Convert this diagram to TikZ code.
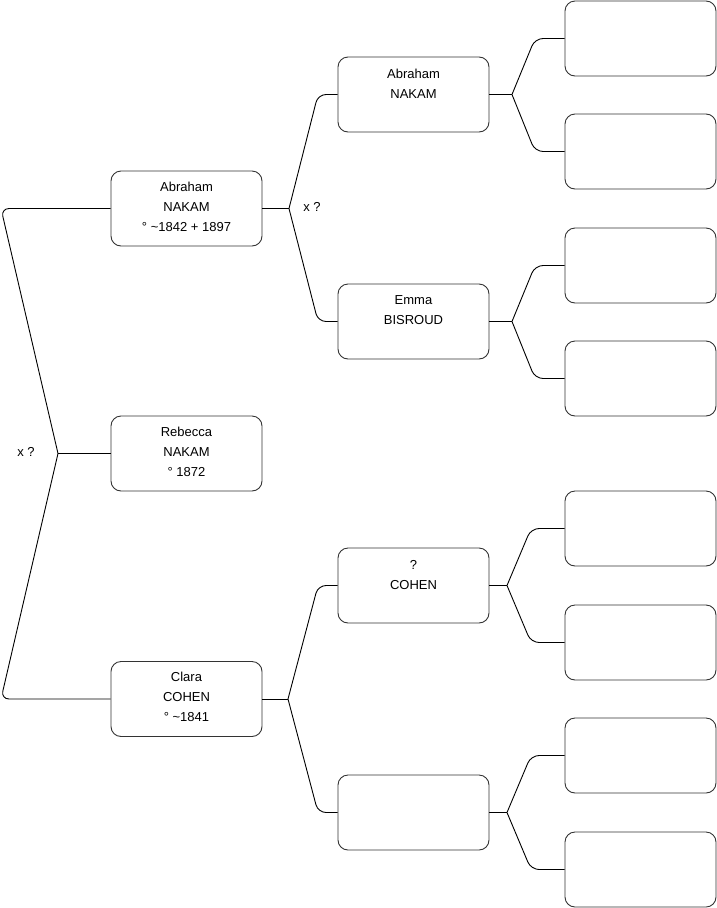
\documentclass[tikz,border=0pt]{standalone}
\usepackage{fontspec}
\setmainfont{Liberation Sans}
\newcommand{\lowpad}{\rule[-4pt]{0pt}{4pt}}
\newcommand{\emptyline}{\rule[-2pt]{0pt}{2pt}}
\begin{document}
\begin{tikzpicture}[x=1pt,y=-1pt,
  person/.style={draw=black!80, line width=0.9pt, rounded corners=10pt,
    minimum width=151pt, minimum height=75pt, inner sep=0pt,
    align=center, font=\fontsize{13}{20}\selectfont},
  link/.style={draw=black, line width=0.9pt, rounded corners=8pt},
  lbl/.style={font=\fontsize{13}{16}\selectfont, inner sep=0pt}]
\useasboundingbox (0,0) rectangle (716,908);
% generation 1
\node[person] (reb) at (186.5,453.5) {Rebecca\\NAKAM\\° 1872\lowpad};
% generation 2
\node[person] (abr) at (186.5,208.5) {Abraham\\NAKAM\\° \textasciitilde1842 + 1897\lowpad};
\node[person] (cla) at (186.5,699) {Clara\\COHEN\\° \textasciitilde1841\lowpad};
% generation 3
\node[person] (abr2) at (413.5,94.5) {Abraham\\NAKAM\\\emptyline};
\node[person] (emm) at (413.5,321.5) {Emma\\BISROUD\\\emptyline};
\node[person] (coh) at (413.5,585.5) {?\\COHEN\\\emptyline};
\node[person] (unk) at (413.5,812.5) {};
% generation 4
\foreach \n/\y in {a/38.5,b/151.5,c/265.5,d/378.5,e/528.5,f/642.5,g/755.5,h/869.5}
  \node[person] (g4\n) at (640.5,\y) {};
% connectors gen1 -> gen2
\coordinate (j1) at (58,453.5);
\coordinate (c1a) at (1,208.5);
\coordinate (c1b) at (1,699);
\draw[link] (reb.west) -- (j1);
\draw[link] (j1) -- (c1a) -- (abr.west);
\draw[link] (j1) -- (c1b) -- (cla.west);
\node[lbl] (x1) at (26,452) {x ?};
% gen2 -> gen3
\coordinate (j2) at (289,208.5);
\coordinate (c2a) at (318,94.5);
\coordinate (c2b) at (318,321.5);
\draw[link] (abr.east) -- (j2);
\draw[link] (j2) -- (c2a) -- (abr2.west);
\draw[link] (j2) -- (c2b) -- (emm.west);
\node[lbl] (x2) at (312,207) {x ?};
\coordinate (j3) at (288,699);
\coordinate (c3a) at (318,585.5);
\coordinate (c3b) at (318,812.5);
\draw[link] (cla.east) -- (j3);
\draw[link] (j3) -- (c3a) -- (coh.west);
\draw[link] (j3) -- (c3b) -- (unk.west);
% gen3 -> gen4
\coordinate (j4) at (512,94.5);
\coordinate (c4a) at (535,38.5);
\coordinate (c4b) at (535,151.5);
\draw[link] (abr2.east) -- (j4);
\draw[link] (j4) -- (c4a) -- (g4a.west);
\draw[link] (j4) -- (c4b) -- (g4b.west);
\coordinate (j5) at (512,321.5);
\coordinate (c5a) at (535,265.5);
\coordinate (c5b) at (535,378.5);
\draw[link] (emm.east) -- (j5);
\draw[link] (j5) -- (c5a) -- (g4c.west);
\draw[link] (j5) -- (c5b) -- (g4d.west);
\coordinate (j6) at (507,585.5);
\coordinate (c6a) at (531,528.5);
\coordinate (c6b) at (531,642.5);
\draw[link] (coh.east) -- (j6);
\draw[link] (j6) -- (c6a) -- (g4e.west);
\draw[link] (j6) -- (c6b) -- (g4f.west);
\coordinate (j7) at (507,812.5);
\coordinate (c7a) at (531,755.5);
\coordinate (c7b) at (531,869.5);
\draw[link] (unk.east) -- (j7);
\draw[link] (j7) -- (c7a) -- (g4g.west);
\draw[link] (j7) -- (c7b) -- (g4h.west);
\end{tikzpicture}
\end{document}
